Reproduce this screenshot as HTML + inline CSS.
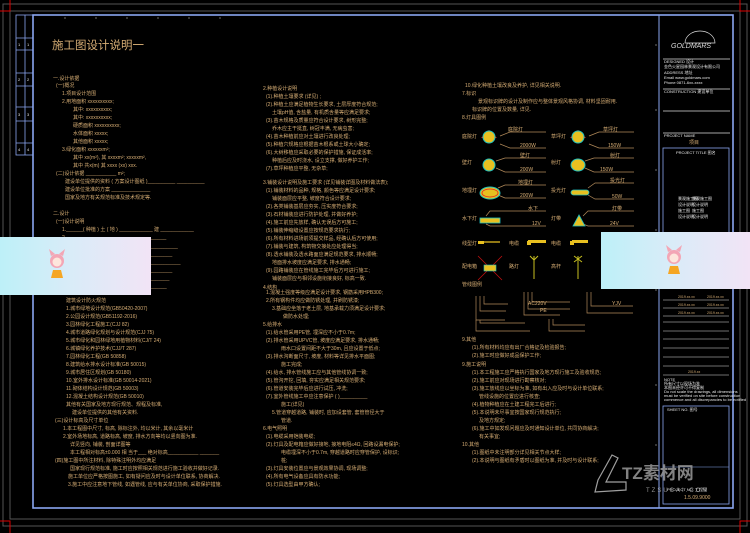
<!DOCTYPE html>
<html><head><meta charset="utf-8"><style>
html,body{margin:0;padding:0;background:#000;}
svg{display:block;}
text{font-family:"Liberation Sans","Noto Sans CJK SC",sans-serif;}
.t{fill:#d6ad74;font-size:5px;}
.w{fill:#e8e8e8;font-size:4px;}
</style></head><body>
<svg width="750" height="533" viewBox="0 0 750 533" xmlns="http://www.w3.org/2000/svg">
<defs>
<linearGradient id="g" x1="0" x2="1"><stop offset="0" stop-color="#bdf0f8"/><stop offset="0.45" stop-color="#d8ecf8"/><stop offset="1" stop-color="#f2e4f6"/></linearGradient>
</defs>
<rect width="750" height="533" fill="#000"/>
<!-- gray outer frames -->
<rect x="3" y="4" width="744" height="522" fill="none" stroke="#555" stroke-width="1"/>
<rect x="10" y="11" width="730" height="508" fill="none" stroke="#555" stroke-width="1"/>
<!-- red corner marks -->
<path d="M10 0V11H0" fill="none" stroke="#d00" stroke-width="1"/>
<path d="M740 0V11H750" fill="none" stroke="#d00" stroke-width="1"/>
<path d="M10 533V521H0" fill="none" stroke="#d00" stroke-width="1"/>
<path d="M740 533V521H750" fill="none" stroke="#d00" stroke-width="1"/>
<!-- main blue frame -->
<rect x="33" y="15" width="700" height="493" fill="none" stroke="#8aa6f0" stroke-width="1.6"/>
<line x1="659" y1="15" x2="659" y2="508" stroke="#8aa6f0" stroke-width="1"/>
<!-- left strip -->
<g stroke="#8aa6f0" stroke-width="0.8" fill="none">
<rect x="16" y="15" width="17" height="140"/><line x1="25" y1="15" x2="25" y2="155"/>
<line x1="16" y1="38" x2="33" y2="38"/><line x1="16" y1="50" x2="33" y2="50"/>
<line x1="16" y1="73" x2="33" y2="73"/><line x1="16" y1="86" x2="33" y2="86"/>
<line x1="16" y1="107" x2="33" y2="107"/><line x1="16" y1="121" x2="33" y2="121"/>
<line x1="16" y1="143" x2="33" y2="143"/>
</g>
<g class="w"><text x="18" y="46">1</text><text x="27" y="46">1</text><text x="18" y="81">2</text><text x="27" y="81">2</text><text x="18" y="116">3</text><text x="27" y="116">3</text><text x="18" y="151">4</text><text x="27" y="151">4</text></g>
<!-- tick marks -->
<g stroke="#888" stroke-width="0.8">
<line x1="65" y1="17" x2="65" y2="19"/><line x1="96" y1="17" x2="96" y2="19"/><line x1="127" y1="17" x2="127" y2="19"/><line x1="158" y1="17" x2="158" y2="19"/><line x1="189" y1="17" x2="189" y2="19"/><line x1="220" y1="17" x2="220" y2="19"/>
<line x1="655" y1="45" x2="657" y2="45"/><line x1="655" y1="110" x2="657" y2="110"/><line x1="655" y1="170" x2="657" y2="170"/><line x1="655" y1="230" x2="657" y2="230"/><line x1="655" y1="290" x2="657" y2="290"/><line x1="655" y1="385" x2="657" y2="385"/><line x1="655" y1="445" x2="657" y2="445"/>
</g>
<text x="52" y="49" fill="#d6ad74" font-size="11.5">施工图设计说明一</text>

<!-- LEFT COLUMN -->
<g class="t">
<text x="53" y="80">一.设计依据</text>
<text x="56" y="87">(一)概况</text>
<text x="62" y="95">1.项目设计范围</text>
<text x="62" y="103">2.用地面积          xxxxxxxxxx;</text>
<text x="73" y="111">其中:      xxxxxxxxxx;</text>
<text x="73" y="119">其中:      xxxxxxxxxx;</text>
<text x="73" y="127">硬质面积        xxxxxxxxxx;</text>
<text x="73" y="135">水体面积             xxxxx;</text>
<text x="73" y="143">其他面积             xxxxx;</text>
<text x="62" y="151">3.绿化面积            xxxxxxm²;</text>
<text x="73" y="159">其中       xx(m²),       其       xxxxm²;          xxxxxm²,</text>
<text x="73" y="167">其中       共x(m)       其          xxxx          (xx)                      xxx.</text>
<text x="56" y="175">(二)设计依据          ___________  m²;</text>
<text x="65" y="183">建设单位提供的资料             ( 方案设计图纸 )__________           __________</text>
<text x="65" y="191">建设单位批准的方案                ______________</text>
<text x="65" y="199">国家及地方有关规范标准及技术规定等.</text>
<text x="53" y="215">二.设计</text>
<text x="56" y="223">(一)设计说明</text>
<text x="62" y="231">1.______( 种植 ) 土 ( 地 ) ____________ 建 ____________</text>
<text x="62" y="239">2.____________________________________</text>
<text x="150" y="248">__________</text>
<text x="150" y="256">________</text>
<text x="150" y="264">___________</text>
<text x="150" y="272">________</text>
<text x="150" y="280">_______</text>
<text x="150" y="288">______</text>
<text x="66" y="302">建筑设计防火规范</text>
<text x="66" y="310">1.城市绿地设计规范(GB50420-2007)</text>
<text x="66" y="318">2.公园设计规范(GB51192-2016)</text>
<text x="66" y="326">3.园林绿化工程施工(CJJ 82)</text>
<text x="66" y="334">4.城市道路绿化规划与设计规范(CJJ 75)</text>
<text x="66" y="342">5.城市绿化和园林绿地用植物材料(CJ/T 24)</text>
<text x="66" y="350">6.城镇绿化养护技术(CJJ/T 287)</text>
<text x="66" y="358">7.园林绿化工程(GB 50858)</text>
<text x="66" y="366">8.建筑给水排水设计标准(GB 50015)</text>
<text x="66" y="374">9.城市居住区规划(GB 50180)</text>
<text x="66" y="382">10.室外排水设计标准(GB 50014-2021)</text>
<text x="66" y="390">11.砌体结构设计规范(GB 50003)</text>
<text x="66" y="398">12.混凝土结构设计规范(GB 50010)</text>
<text x="66" y="406">其他有关国家及地方现行规范、规程及标准,</text>
<text x="72" y="414">建设单位提供的其他有关资料.</text>
<text x="55" y="422">(三)设计标高及尺寸单位</text>
<text x="63" y="430">1.本工程图中尺寸, 标高, 除标注外, 均以米计, 其余以毫米计</text>
<text x="63" y="438">2.室外场地标高, 道路标高, 坡度, 排水方向等均以竖向图为准.</text>
<text x="70" y="446">详见竖向, 铺装, 剖面详图等</text>
<text x="70" y="454">本工程相对标高±0.000      相          当于___   绝对标高___________     _______</text>
<text x="55" y="462">(四)施工图中所注材料, 除特殊注明外均应满足</text>
<text x="70" y="470">国家现行规范标准, 施工时应按照相关规范进行施工验收并做好记录.</text>
<text x="68" y="478">施工单位应严格按图施工, 如有疑问应及时与设计单位联系, 协商解决.</text>
<text x="68" y="486">3.施工中应注意地下管线, 如遇管线, 应与有关单位协商, 采取保护措施.</text>
</g>

<!-- MIDDLE COLUMN -->
<g class="t">
<text x="263" y="90">2.种植设计说明</text>
<text x="266" y="98">(1).种植土壤要求          (详见)            ;</text>
<text x="266" y="106">(2).种植土应满足植物生长要求, 土层厚度符合规范;</text>
<text x="272" y="114">土壤pH值, 含盐量, 有机质含量等应满足要求;</text>
<text x="266" y="122">(3).苗木规格及质量应符合设计要求, 树形完整;</text>
<text x="272" y="130">乔木应主干挺直, 树冠丰满, 无病虫害;</text>
<text x="266" y="138">(4).苗木种植前应对土壤进行改良处理;</text>
<text x="266" y="146">(5).种植穴规格应根据苗木根系或土球大小确定;</text>
<text x="266" y="154">(6).大树移植应采取必要的保护措施, 保证成活率;</text>
<text x="272" y="162">种植后应及时浇水, 设立支撑, 做好养护工作;</text>
<text x="266" y="170">(7).草坪种植应平整, 无杂草;</text>
<text x="263" y="184">3.铺装设计说明及施工要求 (详见铺装详图及材料做法表);</text>
<text x="266" y="192">(1).铺装材料的品种, 规格, 颜色等应满足设计要求;</text>
<text x="272" y="200">铺装面层应平整, 坡度符合设计要求;</text>
<text x="266" y="208">(2).各类铺装基层应夯实, 压实度符合要求;</text>
<text x="266" y="216">(3).石材铺装应进行防护处理, 并做好养护;</text>
<text x="266" y="224">(4).施工前应先放样, 确认无误后方可施工;</text>
<text x="266" y="232">(5).铺装伸缩缝设置应按规范要求执行;</text>
<text x="266" y="240">(6).所有材料进场前须提交样品, 经确认后方可使用;</text>
<text x="266" y="248">(7).铺装与建筑, 构筑物交接处应处理得当;</text>
<text x="266" y="256">(8).透水铺装及透水路面应满足规范要求, 排水顺畅;</text>
<text x="272" y="264">地面排水坡度应满足要求, 排水通畅;</text>
<text x="266" y="272">(9).园路铺装应在管线施工完毕后方可进行施工;</text>
<text x="272" y="280">铺装面层应与相邻设施衔接良好, 标高一致.</text>
<text x="263" y="289">4.结构</text>
<text x="266" y="294">1.混凝土强度等级应满足设计要求, 钢筋采用HPB300;</text>
<text x="266" y="302">2.所有钢构件均应做防锈处理, 并刷防锈漆;</text>
<text x="272" y="310">3.基础应坐落于老土层, 地基承载力须满足设计要求;</text>
<text x="283" y="318">做防水处理;</text>
<text x="263" y="326">5.给排水</text>
<text x="266" y="334">(1).给水管采用PE管, 埋深应不小于0.7m;</text>
<text x="266" y="342">(2).排水管采用UPVC管, 坡度应满足要求, 排水通畅;</text>
<text x="281" y="350">雨水口设置间距不大于30m, 且应设置于低点;</text>
<text x="266" y="358">(3).排水沟断面尺寸, 坡度, 材料等详见排水平面图;</text>
<text x="281" y="366">施工完成;</text>
<text x="266" y="374">(4).给水, 排水管线施工应与其他管线协调一致;</text>
<text x="266" y="382">(5).管沟开挖, 回填, 夯实应满足相关规范要求;</text>
<text x="266" y="390">(6).管道安装完毕后应进行试压, 冲洗;</text>
<text x="266" y="398">(7).室外管线施工中应注意保护          (               )__________</text>
<text x="281" y="406">施工(详见)</text>
<text x="272" y="414">5.管道穿越道路, 铺装时, 应加设套管, 套管管径大于</text>
<text x="281" y="422">管道.</text>
<text x="263" y="430">6.电气照明</text>
<text x="266" y="438">(1).电缆采用铠装电缆;</text>
<text x="266" y="446">(2).灯具及配电箱应做好接地, 接地电阻≤4Ω, 回路设漏电保护;</text>
<text x="281" y="454">电缆埋深不小于0.7m, 穿越道路时应穿管保护, 设标识;</text>
<text x="281" y="462">桩;</text>
<text x="266" y="470">(3).灯具安装位置应与景观效果协调, 现场调整;</text>
<text x="266" y="478">(4).所有电气设备应具有防水功能;</text>
<text x="266" y="486">(5).灯具选型由甲方确认;</text>
</g>

<!-- RIGHT COLUMN -->
<g class="t">
<text x="465" y="87">10.绿化种植土壤改良及养护, 详见相关说明.</text>
<text x="462" y="95">7.标识</text>
<text x="478" y="103">景观标识牌的设计及制作应与整体景观风格协调, 材料坚固耐用.</text>
<text x="472" y="111">标识牌的位置及数量, 详见.</text>
<text x="462" y="119">8.灯具图例</text>
<text x="462" y="138">庭院灯</text><text x="551" y="138">草坪灯</text>
<text x="462" y="164">壁灯</text><text x="551" y="164">射灯</text>
<text x="462" y="192">地埋灯</text><text x="551" y="192">投光灯</text>
<text x="462" y="220">水下灯</text><text x="551" y="220">灯带</text>
<text x="462" y="245">线型灯</text><text x="509" y="245">电缆</text><text x="551" y="245">电缆</text>
<text x="462" y="268">配电箱</text><text x="509" y="268">路灯</text><text x="551" y="268">高杆</text>
<text x="462" y="286">管线图例</text>
<text x="462" y="341">9.其他</text>
<text x="472" y="349">(1).所有材料均应有出厂合格证及检验报告;</text>
<text x="472" y="357">(2).施工时应做好成品保护工作;</text>
<text x="462" y="366">9.施工说明</text>
<text x="472" y="374">(1).本工程施工应严格执行国家及地方现行施工及验收规范;</text>
<text x="472" y="382">(2).施工前应对现场进行勘察核对;</text>
<text x="472" y="390">(3).施工放线应以坐标为准, 如有出入应及时与设计单位联系;</text>
<text x="479" y="398">管线设施的位置应进行核查;</text>
<text x="472" y="406">(4).植物种植应在土建工程完工后进行;</text>
<text x="472" y="414">(5).本说明未尽事宜按国家现行规范执行;</text>
<text x="479" y="422">及地方规定;</text>
<text x="472" y="430">(6).施工中如发现问题应及时通知设计单位, 共同协商解决;</text>
<text x="479" y="438">有关事宜;</text>
<text x="462" y="446">10.其他</text>
<text x="472" y="454">(1).图纸中未注明部分详见相关节点大样;</text>
<text x="472" y="462">(2).本说明与图纸有矛盾时以图纸为准, 并及时与设计联系;</text>
</g>
<!-- lamp symbols and leader lines -->
<g fill="none" stroke="#b28a5a" stroke-width="0.7">
<path d="M500 136 L510 132 L546 132"/><path d="M500 144 L510 148 L546 148"/>
<path d="M589 136 L599 132 L634 132"/><path d="M589 144 L599 148 L634 148"/>
<path d="M496 161 L505 158 L546 158"/><path d="M496 168 L505 172 L546 172"/>
<path d="M585 161 L594 158 L634 158"/><path d="M585 168 L594 172 L634 172"/>
<path d="M498 188 L505 185 L546 185"/><path d="M498 195 L505 198 L546 198"/>
<path d="M588 188 L595 183 L634 183"/><path d="M588 195 L595 199 L634 199"/>
<path d="M486 216 L490 211 L546 211"/><path d="M486 224 L490 226 L546 226"/>
<path d="M583 216 L588 211 L634 211"/><path d="M583 224 L588 226 L634 226"/>
<path d="M476 296 V320 H505 M480 296 V311 H506 M484 296 V304 H508"/>
<path d="M524 292 V315 H560 M528 292 V309 H570 M532 292 V302 H570"/>
<path d="M587 292 V313 H633 M591 292 V306 H633"/>
<path d="M476 320 V331 H530 M480 320 V323 H525"/>
<path d="M549 319 V331 H585 M553 319 V325 H585"/>
</g>
<g>
<path d="M489 130 L481 138 L497 138 Z" fill="#e02020"/>
<ellipse cx="489" cy="137" rx="6" ry="6" fill="#e8c020" stroke="#20c0c0" stroke-width="1"/>
<path d="M578 130 L570 138 L586 138 Z" fill="#e02020"/>
<ellipse cx="578" cy="137" rx="6" ry="6" fill="#e8c020" stroke="#20c0c0" stroke-width="1"/>
<ellipse cx="489" cy="165" rx="6" ry="6" fill="#e8c020" stroke="#20c0c0" stroke-width="1"/>
<ellipse cx="578" cy="165" rx="7" ry="6" fill="#e8c020" stroke="#20c0c0" stroke-width="1"/>
<ellipse cx="490" cy="193" rx="10" ry="6" fill="#e8c020" stroke="#20c0c0" stroke-width="1"/>
<ellipse cx="490" cy="193" rx="8" ry="4" fill="none" stroke="#e02020" stroke-width="0.8"/>
<rect x="571" y="190" width="18" height="5" rx="2.5" fill="#e8c020" stroke="#20c0c0" stroke-width="0.8"/>
<rect x="480" y="218" width="20" height="5" fill="#e8c020" stroke="#20c0c0" stroke-width="0.8"/>
<path d="M579 215 L573 226 L585 226 Z" fill="#e8c020" stroke="#20c0c0" stroke-width="0.8"/>
<path d="M478 242 H500" stroke="#e8c020" stroke-width="1.2"/><rect x="478" y="241" width="6" height="3" fill="#e8c020"/>
<rect x="528" y="240" width="18" height="3" fill="#e8c020"/><rect x="527" y="241" width="4" height="4" fill="#e8c020"/>
<rect x="572" y="240" width="16" height="3" fill="#e8c020"/><rect x="570" y="241" width="4" height="4" fill="#e8c020"/>
<path d="M478 256 L502 280 M502 256 L478 280" stroke="#c01010" stroke-width="0.8"/>
<rect x="484" y="265" width="12" height="6" fill="#e8c020" stroke="#20c0c0" stroke-width="0.6"/>
<path d="M534 256 V279 M530 256 L534 260 L538 256" stroke="#c8c020" stroke-width="1" fill="none"/>
<path d="M578 256 V279 M574 256 L582 262 M582 256 L574 262" stroke="#c8c020" stroke-width="1" fill="none"/>
</g>
<g class="t" font-size="4"><text x="508" y="131">庭院灯</text><text x="520" y="147">2000W</text><text x="603" y="131">草坪灯</text><text x="608" y="147">150W</text>
<text x="520" y="157">壁灯</text><text x="520" y="171">200W</text><text x="610" y="157">射灯</text><text x="600" y="171">150W</text>
<text x="518" y="184">地埋灯</text><text x="520" y="197">200W</text><text x="610" y="182">投光灯</text><text x="612" y="198">50W</text>
<text x="528" y="210">水下</text><text x="532" y="225">12V</text><text x="612" y="210">灯带</text><text x="610" y="225">24V</text>
<text x="528" y="305">AC220V</text><text x="540" y="312">PE</text><text x="612" y="305">YJV</text></g>

<!-- TITLE BLOCK -->
<g fill="none" stroke="#ddd" stroke-width="0.7">
<path d="M685 43 A15 12 0 0 1 715 43 Z"/>
<line x1="663" y1="59" x2="730" y2="59"/><line x1="663" y1="89" x2="730" y2="89"/>
<line x1="663" y1="111" x2="730" y2="111"/><line x1="663" y1="133" x2="730" y2="133"/>
</g>
<text x="671" y="48" fill="#ddd" font-size="7" font-style="italic">GOLDMARS</text>
<g class="w" font-size="3">
<text x="664" y="63">DESIGNED  设计</text><text x="664" y="68">金色火星园林景观设计有限公司</text><text x="664" y="74">ADDRESS 地址</text><text x="664" y="79">Email www.goldmars.com</text><text x="664" y="84">Phone 0871-6xx-xxxx</text>
<text x="664" y="93">CONSTRUCTION   建设单位</text><text x="664" y="137">PROJECT NAME</text>
</g>
<text x="689" y="144" fill="#d6ad74" font-size="5">项目</text>
<rect x="663" y="148" width="66" height="140" fill="none" stroke="#8aa6f0" stroke-width="0.8"/>
<text x="676" y="154" class="w" font-size="3">PROJECT TITLE  图名</text>
<g class="w" font-size="3" fill="#e0d0a0"><text x="678" y="200">景观施工图</text><text x="678" y="206">设计说明</text><text x="678" y="212">施工图</text><text x="678" y="218">设计说明</text>
<text x="692" y="200">景观施工图</text><text x="692" y="206">设计说明</text><text x="692" y="212">施工图</text><text x="692" y="218">设计说明</text></g>
<g stroke="#ddd" stroke-width="0.5">
<line x1="663" y1="300" x2="729" y2="300"/><line x1="663" y1="308" x2="729" y2="308"/><line x1="663" y1="316" x2="729" y2="316"/>
<line x1="663" y1="322" x2="729" y2="322"/><line x1="663" y1="331" x2="729" y2="331"/><line x1="663" y1="339" x2="729" y2="339"/><line x1="663" y1="348" x2="729" y2="348"/><line x1="663" y1="357" x2="729" y2="357"/><line x1="663" y1="366" x2="729" y2="366"/><line x1="663" y1="375" x2="729" y2="375"/>
</g>
<g fill="#d6ad74" font-size="3.5"><text x="678" y="298">2019.xx.xx</text><text x="707" y="298">2019.xx.xx</text><text x="678" y="306">2019.xx.xx</text><text x="707" y="306">2019.xx.xx</text><text x="678" y="314">2019.xx.xx</text><text x="707" y="314">2019.xx.xx</text><text x="688" y="373">2019.xx</text></g>
<g class="w" font-size="2.8"><text x="664" y="381">NOTE</text><text x="664" y="385">所有尺寸以现场为准</text><text x="664" y="389">本图未经许可不得复制</text><text x="664" y="393">Do not scale the drawings, all dimensions</text><text x="664" y="397">must be verified on site before construction</text><text x="664" y="401">commence and all discrepancies to be notified</text></g>
<rect x="663" y="406" width="66" height="98" fill="none" stroke="#8aa6f0" stroke-width="0.8"/>
<line x1="663" y1="467" x2="729" y2="467" stroke="#8aa6f0" stroke-width="0.6"/>
<text x="667" y="411" class="w" font-size="3">SHEET NO.   图号</text>
<text x="667" y="491" class="w" font-size="3">PROJECT NO.   工程号</text>
<text x="684" y="499" fill="#d6ad74" font-size="5">1.5.09.9000</text>

<!-- watermark -->
<g opacity="0.85">
<path d="M598 480 L612 455 L618 458 L606 482 L626 482 L626 490 L595 492 Z" fill="none" stroke="#bbb" stroke-width="1.2"/>
<text x="622" y="479" fill="#999" font-size="17" font-weight="bold">TZ素材网</text>
<text x="646" y="492" fill="#aaa" font-size="6" letter-spacing="2">TZSUCAI.COM</text>
</g>

<!-- overlays -->
<rect x="0" y="237" width="151" height="58" fill="url(#g)"/>
<rect x="601" y="232" width="149" height="57" fill="url(#g)"/>
<g>
<circle cx="57" cy="261" r="7" fill="#f3a6b5"/><path d="M51 256 L49 249 L55 254 Z M63 256 L65 249 L59 254 Z" fill="#f3a6b5"/>
<circle cx="57" cy="262" r="4.5" fill="#fde6dc"/><path d="M53 270 h8 l2 8 h-12 Z" fill="#f5a623"/>
<circle cx="674" cy="257" r="7" fill="#f3a6b5"/><path d="M668 252 L666 245 L672 250 Z M680 252 L682 245 L676 250 Z" fill="#f3a6b5"/>
<circle cx="674" cy="258" r="4.5" fill="#fde6dc"/><path d="M670 266 h8 l2 8 h-12 Z" fill="#f5a623"/>
</g>
</svg>
</body></html>
